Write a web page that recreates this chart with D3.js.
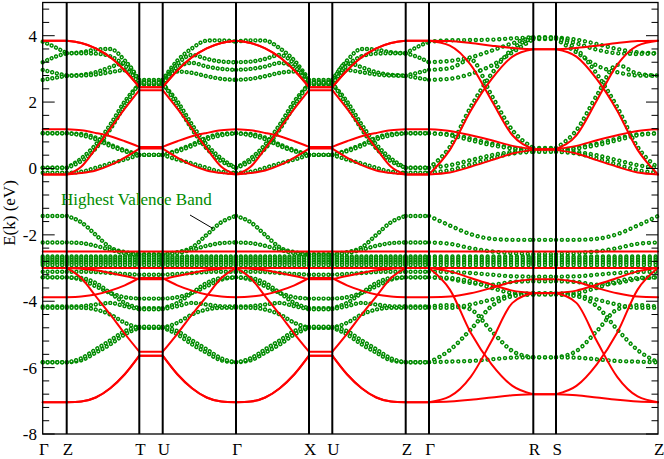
<!DOCTYPE html>
<html>
<head>
<meta charset="utf-8">
<script src="https://cdn.jsdelivr.net/npm/d3@7"></script>
<style>
  body { margin: 0; background: #fff; }
  svg { display: block; font-family: "Liberation Serif", "Times New Roman", serif; }
</style>
</head>
<body>
<svg width="664" height="459"></svg>
<script>
// k-path: high symmetry points and their path distance
const kLabels = ["Γ", "Z", "T", "U", "Γ", "X", "U", "Z", "Γ", "R", "S", "Z"];
const kDist = [0, 24, 96.6, 120, 193.3, 266.3, 289.6, 363, 386.3, 490.6, 513.3, 615.3];

// sample fractions along a long segment (measured from the Γ / Z end)
const frac = [0, 0.2, 0.4, 0.6, 0.8, 1];
const fracGZ = [0, 0.5, 1];

const yTicks = [-8, -6, -4, -2, 0, 2, 4];

// green (dotted) bands, Γ -> T/U/X
const greenGM = [
  [3.82, 3.86, 3.85, 3.62, 3.25, 2.67],
  [3.20, 3.22, 3.30, 3.42, 3.15, 2.62],
  [2.97, 3.00, 3.07, 3.18, 3.05, 2.58],
  [2.67, 2.70, 2.78, 2.88, 2.92, 2.54],
  [1.06, 1.04, 0.93, 0.72, 0.55, 0.41],
  [1.06, 1.00, 0.88, 0.68, 0.52, 0.41],
  [0.02, 0.30, 0.72, 1.32, 2.02, 2.54],
  [0.02, 0.22, 0.60, 1.18, 1.90, 2.58],
  [-0.13, -0.10, 0.02, 0.15, 0.27, 0.41],
  [-1.43, -1.62, -2.00, -2.38, -2.52, -2.58],
  [-2.23, -2.25, -2.33, -2.45, -2.55, -2.60],
  [-2.65, -2.65, -2.65, -2.65, -2.65, -2.65],
  [-2.70, -2.70, -2.70, -2.70, -2.70, -2.70],
  [-2.75, -2.75, -2.75, -2.75, -2.75, -2.75],
  [-2.80, -2.80, -2.80, -2.80, -2.80, -2.80],
  [-2.85, -2.85, -2.85, -2.85, -2.85, -2.85],
  [-2.91, -2.91, -2.91, -2.91, -2.91, -2.91],
  [-3.11, -3.11, -3.12, -3.15, -3.18, -3.20],
  [-3.28, -3.35, -3.55, -3.75, -3.88, -3.92],
  [-3.28, -3.30, -3.45, -3.75, -4.05, -4.21],
  [-4.16, -4.15, -4.10, -4.05, -4.15, -4.24],
  [-4.20, -4.20, -4.25, -4.40, -4.65, -4.80],
  [-5.84, -5.78, -5.55, -5.30, -5.00, -4.80],
  [-5.84, -5.72, -5.45, -5.18, -4.90, -4.77]
];

// green bands, Γ -> R
const greenGR = [
  [3.82, 3.86, 3.87, 3.88, 3.92, 3.95],
  [3.20, 3.24, 3.35, 3.55, 3.77, 3.95],
  [2.97, 3.02, 3.28, 2.20, 1.15, 0.62],
  [2.67, 2.70, 2.85, 3.10, 3.50, 3.90],
  [1.06, 1.03, 0.90, 0.75, 0.62, 0.55],
  [1.06, 1.00, 0.85, 0.70, 0.60, 0.52],
  [0.02, 0.65, 1.85, 2.85, 3.60, 3.93],
  [0.02, 0.10, 0.25, 0.40, 0.50, 0.58],
  [-0.13, -0.05, 0.12, 0.30, 0.45, 0.50],
  [-1.43, -1.72, -1.98, -2.12, -2.15, -2.15],
  [-2.23, -2.27, -2.40, -2.50, -2.55, -2.58],
  [-2.65, -2.65, -2.65, -2.65, -2.65, -2.65],
  [-2.70, -2.70, -2.70, -2.70, -2.70, -2.70],
  [-2.75, -2.75, -2.75, -2.75, -2.75, -2.75],
  [-2.80, -2.80, -2.80, -2.80, -2.80, -2.80],
  [-2.85, -2.85, -2.85, -2.85, -2.85, -2.85],
  [-2.91, -2.91, -2.91, -2.91, -2.91, -2.91],
  [-3.11, -3.12, -3.15, -3.20, -3.25, -3.26],
  [-3.28, -3.33, -3.45, -3.50, -3.42, -3.40],
  [-3.28, -3.30, -3.40, -3.60, -3.75, -3.78],
  [-4.16, -4.12, -4.25, -4.90, -5.50, -5.69],
  [-4.20, -4.20, -4.10, -3.95, -3.82, -3.76],
  [-5.84, -5.47, -4.85, -4.15, -3.85, -3.80],
  [-5.84, -5.82, -5.80, -5.75, -5.70, -5.69]
];

// the upper four green bands differ at Z
const greenGZtop = [
  [3.82, 3.66, 3.47],
  [3.20, 3.36, 3.47],
  [2.97, 2.88, 2.80],
  [2.67, 2.73, 2.79]
];
const greenZMtop = [
  [3.47, 3.50, 3.58, 3.60, 3.25, 2.67],
  [3.47, 3.47, 3.46, 3.38, 3.10, 2.62],
  [2.80, 2.82, 2.90, 3.05, 3.18, 2.58],
  [2.79, 2.80, 2.83, 2.90, 2.96, 2.54]
];
const greenZRtop = [
  [3.47, 3.50, 3.60, 3.75, 3.88, 3.95],
  [3.47, 3.45, 3.47, 3.58, 3.77, 3.95],
  [2.80, 2.86, 3.12, 2.20, 1.15, 0.62],
  [2.79, 2.80, 2.90, 3.10, 3.50, 3.90]
];

// red (free electron) bands, Γ -> T/U/X
const redGM = [
  [3.85, 3.78, 3.62, 3.35, 2.95, 2.45],
  [3.85, 3.78, 3.62, 3.35, 2.95, 2.45],
  [1.18, 1.15, 1.07, 0.97, 0.82, 0.65],
  [-0.18, 0.05, 0.60, 1.20, 1.80, 2.36],
  [-0.18, -0.14, -0.06, 0.10, 0.33, 0.60],
  [-2.50, -2.50, -2.50, -2.50, -2.50, -2.50],
  [-3.00, -3.00, -3.00, -3.00, -3.00, -3.00],
  [-3.00, -3.02, -3.07, -3.15, -3.24, -3.34],
  [-3.88, -3.86, -3.80, -3.68, -3.52, -3.30],
  [-3.00, -3.30, -3.85, -4.40, -4.98, -5.52],
  [-7.04, -7.02, -6.90, -6.62, -6.20, -5.64],
  [-7.04, -7.02, -6.90, -6.62, -6.20, -5.64]
];

// red bands, Γ -> R
const redGR = [
  [3.85, 3.84, 3.78, 3.70, 3.63, 3.59],
  [3.85, 3.70, 3.12, 2.05, 1.00, 0.58],
  [1.18, 1.13, 1.00, 0.85, 0.68, 0.58],
  [-0.18, 0.56, 1.74, 2.69, 3.37, 3.59],
  [-0.18, -0.12, 0.05, 0.25, 0.45, 0.56],
  [-2.50, -2.50, -2.50, -2.50, -2.50, -2.50],
  [-3.00, -3.00, -3.00, -3.00, -3.00, -3.00],
  [-3.00, -3.10, -3.30, -3.50, -3.68, -3.75],
  [-3.88, -3.86, -3.76, -3.60, -3.42, -3.34],
  [-3.00, -3.65, -4.95, -5.90, -6.55, -6.80],
  [-7.04, -7.02, -6.97, -6.90, -6.83, -6.80],
  [-7.04, -6.87, -6.28, -5.20, -4.05, -3.76]
];

const segments = [
  { from: 0, to: 1, path: "GZ" },
  { from: 1, to: 2, path: "ZM" },
  { from: 2, to: 3, path: "MM" },
  { from: 3, to: 4, path: "GM", rev: true },
  { from: 4, to: 5, path: "GM" },
  { from: 5, to: 6, path: "MM" },
  { from: 6, to: 7, path: "ZM", rev: true },
  { from: 7, to: 8, path: "GZ", rev: true },
  { from: 8, to: 9, path: "GR" },
  { from: 9, to: 10, path: "RR" },
  { from: 10, to: 11, path: "ZR", rev: true }
];

const green = "#008b00";

const svg = d3.select("svg");
const x = d3.scaleLinear().domain([0, 615.3]).range([42.7, 658]);
const y = d3.scaleLinear().domain([-8, 5]).range([434, 2.5]);

function greenProfile(i, p) {
  const top = i < greenGZtop.length;
  const g0 = greenGM[i][0];
  if (p === "GZ") return [fracGZ, top ? greenGZtop[i] : [g0, g0, g0]];
  if (p === "GM") return [frac, greenGM[i]];
  if (p === "ZM") return [frac, top ? greenZMtop[i] : greenGM[i]];
  if (p === "MM") return [[0, 1], [greenGM[i][5], greenGM[i][5]]];
  if (p === "GR") return [frac, greenGR[i]];
  if (p === "ZR") return [frac, top ? greenZRtop[i] : greenGR[i]];
  return [[0, 1], [greenGR[i][5], greenGR[i][5]]];
}

function redProfile(i, p) {
  const g0 = redGM[i][0];
  if (p === "GZ") return [[0, 1], [g0, g0]];
  if (p === "GM" || p === "ZM") return [frac, redGM[i]];
  if (p === "MM") return [[0, 1], [redGM[i][5], redGM[i][5]]];
  if (p === "GR" || p === "ZR") return [frac, redGR[i]];
  return [[0, 1], [redGR[i][5], redGR[i][5]]];
}

function segPoints(seg, prof) {
  const [fr, v] = prof;
  const a = seg.rev ? kDist[seg.to] : kDist[seg.from];
  const b = seg.rev ? kDist[seg.from] : kDist[seg.to];
  return fr.map((f, j) => [a + f * (b - a), v[j]]).sort((p, q) => p[0] - q[0]);
}

const line = d3.line()
  .x(d => x(d[0]))
  .y(d => y(d[1]))
  .curve(d3.curveMonotoneX);

// green bands as rings
const greenData = [];
greenGM.forEach((_, i) => {
  segments.forEach((seg, s) => {
    greenData.push({ pts: segPoints(seg, greenProfile(i, seg.path)), gap: s >= 8 ? 5.85 : 4.85 });
  });
});

const dots = svg.append("g")
  .selectAll("g")
  .data(greenData)
  .join("g");

dots.append("path")
  .attr("d", d => line(d.pts))
  .attr("fill", "none")
  .attr("stroke", green)
  .attr("stroke-width", 4.4)
  .attr("stroke-linecap", "round")
  .attr("stroke-dasharray", d => `0.01 ${d.gap}`);

dots.append("path")
  .attr("d", d => line(d.pts))
  .attr("fill", "none")
  .attr("stroke", "#fff")
  .attr("stroke-width", 1.5)
  .attr("stroke-linecap", "round")
  .attr("stroke-dasharray", d => `0.01 ${d.gap}`);

// red bands
const redData = [];
redGM.forEach((_, i) => {
  segments.forEach(seg => redData.push(segPoints(seg, redProfile(i, seg.path))));
});

svg.append("g")
  .attr("fill", "none")
  .attr("stroke", "#ff0000")
  .attr("stroke-width", 2)
  .attr("stroke-linecap", "round")
  .selectAll("path")
  .data(redData)
  .join("path")
  .attr("d", line);

// high symmetry lines
svg.append("g")
  .attr("stroke", "#000")
  .attr("stroke-width", 2)
  .selectAll("line")
  .data(kDist.slice(1, -1))
  .join("line")
  .attr("x1", d => x(d))
  .attr("x2", d => x(d))
  .attr("y1", y(5))
  .attr("y2", y(-8));

// frame
svg.append("rect")
  .attr("x", x(0))
  .attr("y", y(5))
  .attr("width", x(615.3) - x(0))
  .attr("height", y(-8) - y(5))
  .attr("fill", "none")
  .attr("stroke", "#000")
  .attr("stroke-width", 1.3);

// ticks, inward on both sides
const minor = d3.range(-8, 5.01, 0.4).map(v => +v.toFixed(1));
const isMajor = v => yTicks.includes(v);

svg.append("g")
  .attr("stroke", "#000")
  .attr("stroke-width", 1)
  .selectAll("line")
  .data(minor)
  .join("line")
  .attr("x1", x(0))
  .attr("x2", d => x(0) + (isMajor(d) ? 12 : 6.5))
  .attr("y1", d => y(d))
  .attr("y2", d => y(d));

svg.append("g")
  .attr("stroke", "#000")
  .attr("stroke-width", 1)
  .selectAll("line")
  .data(minor)
  .join("line")
  .attr("x1", x(615.3))
  .attr("x2", d => x(615.3) - (isMajor(d) ? 12 : 6.5))
  .attr("y1", d => y(d))
  .attr("y2", d => y(d));

svg.append("g")
  .attr("font-size", 17)
  .attr("text-anchor", "end")
  .selectAll("text")
  .data(yTicks)
  .join("text")
  .attr("x", 37)
  .attr("y", d => y(d))
  .attr("dy", "0.35em")
  .text(d => d);

svg.append("g")
  .attr("font-size", 17)
  .attr("text-anchor", "middle")
  .selectAll("text")
  .data(kLabels)
  .join("text")
  .attr("x", (d, i) => x(kDist[i]) + 1.2)
  .attr("y", 455)
  .text(d => d);

svg.append("text")
  .attr("transform", "translate(15,213) rotate(-90)")
  .attr("text-anchor", "middle")
  .attr("font-size", 17)
  .text("E(k) (eV)");

svg.append("text")
  .attr("x", 61)
  .attr("y", 205)
  .attr("font-size", 17)
  .attr("fill", green)
  .text("Highest Valence Band");

svg.append("line")
  .attr("x1", 190).attr("y1", 215)
  .attr("x2", 213).attr("y2", 228.5)
  .attr("stroke", "#000")
  .attr("stroke-width", 1);
</script>
</body>
</html>
